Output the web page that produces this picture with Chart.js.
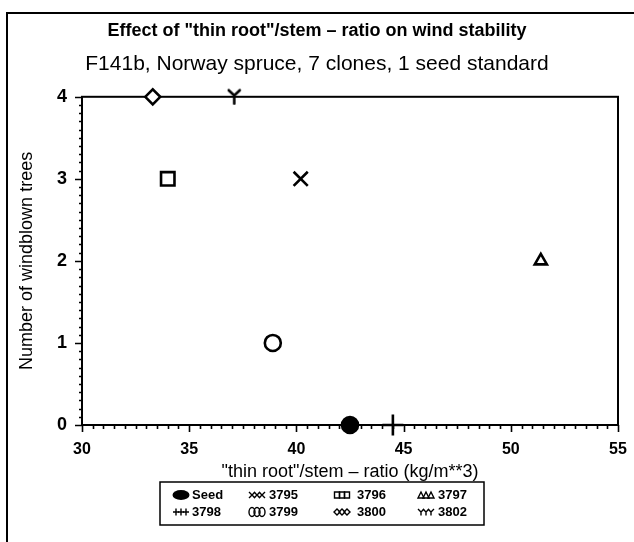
<!DOCTYPE html>
<html><head><meta charset="utf-8">
<script src="https://cdn.jsdelivr.net/npm/chart.js@4/dist/chart.umd.min.js"></script>
<style>html,body{margin:0;padding:0;background:#fff;} #wrap{width:634px;height:542px;position:relative}</style>
</head><body><div id="wrap"><canvas id="c" width="634" height="542"></canvas></div>
<script>
// ---- data ----
const clones = ['Seed', '3795', '3796', '3797', '3798', '3799', '3800', '3802'];
const ratio = [42.5, 40.2, 34.0, 51.4, 44.5, 38.9, 33.3, 37.1];
const windblown = [0, 3, 3, 2, 0, 1, 4, 4];
const xTickValues = [30, 35, 40, 45, 50, 55];
const yTickValues = [0, 1, 2, 3, 4];
const titleText = 'Effect of "thin root"/stem \u2013 ratio on wind stability';
const subtitleText = 'F141b, Norway spruce, 7 clones, 1 seed standard';
const xTitle = '"thin root"/stem \u2013 ratio (kg/m**3)';
const yTitle = 'Number of windblown trees';

const FONT = '"Liberation Sans", Arial, Helvetica, sans-serif';

// Y-shaped marker image
function makeY(w, h, lw) {
  const c = document.createElement('canvas');
  c.width = w; c.height = h;
  const g = c.getContext('2d');
  g.strokeStyle = '#000'; g.lineWidth = lw; g.lineCap = 'round';
  g.beginPath();
  g.moveTo(2, 2); g.lineTo(w / 2, h * 0.42);
  g.lineTo(w - 2, 2);
  g.moveTo(w / 2, h * 0.42); g.lineTo(w / 2, h - 1.5);
  g.stroke();
  return c;
}
const yMarker = makeY(15, 17, 2.6);

const styles = {
  'Seed': {pointStyle: 'circle', radius: 8, bg: '#000'},
  '3795': {pointStyle: 'crossRot', radius: 10, bg: '#fff'},
  '3796': {pointStyle: 'rect', radius: 9.5, bg: '#fff'},
  '3797': {pointStyle: 'triangle', radius: 7, bg: '#fff'},
  '3798': {pointStyle: 'cross', radius: 10.5, bg: '#fff'},
  '3799': {pointStyle: 'circle', radius: 8, bg: 'rgba(0,0,0,0)'},
  '3800': {pointStyle: 'rectRot', radius: 7.5, bg: '#fff'},
  '3802': {pointStyle: yMarker, radius: 8, bg: '#fff'}
};

const datasets = clones.map((name, i) => ({
  label: name,
  data: [{x: ratio[i], y: windblown[i]}],
  pointStyle: styles[name].pointStyle,
  pointRadius: styles[name].radius,
  pointHoverRadius: styles[name].radius,
  backgroundColor: styles[name].bg,
  borderColor: '#000',
  borderWidth: 2.6,
  clip: false
}));

// custom small legend symbol drawing
function legendSym(ctx, name, x, y) {
  ctx.save();
  ctx.strokeStyle = '#000'; ctx.fillStyle = '#000'; ctx.lineWidth = 1.4;
  const offs = [-5, 0, 5];
  if (name === 'Seed') {
    ctx.beginPath();
    ctx.ellipse(x, y, 8.5, 5, 0, 0, Math.PI * 2);
    ctx.fill();
  } else {
    offs.forEach(o => {
      const cx = x + o, r = 3;
      ctx.beginPath();
      switch (name) {
        case '3795': ctx.moveTo(cx - r, y - r); ctx.lineTo(cx + r, y + r); ctx.moveTo(cx + r, y - r); ctx.lineTo(cx - r, y + r); ctx.stroke(); break;
        case '3796': ctx.rect(cx - 2.5, y - r, 5, 2 * r); ctx.stroke(); break;
        case '3797': ctx.moveTo(cx, y - r); ctx.lineTo(cx + r, y + r); ctx.lineTo(cx - r, y + r); ctx.closePath(); ctx.stroke(); break;
        case '3798': ctx.moveTo(cx - r, y); ctx.lineTo(cx + r, y); ctx.moveTo(cx, y - r - 0.5); ctx.lineTo(cx, y + r + 0.5); ctx.stroke(); break;
        case '3799': ctx.ellipse(cx, y, 3, 4.5, 0, 0, Math.PI * 2); ctx.stroke(); break;
        case '3800': ctx.moveTo(cx - r, y); ctx.lineTo(cx, y - r); ctx.lineTo(cx + r, y); ctx.lineTo(cx, y + r); ctx.closePath(); ctx.stroke(); break;
        case '3802': ctx.moveTo(cx - r, y - r); ctx.lineTo(cx, y); ctx.lineTo(cx + r, y - r); ctx.moveTo(cx, y); ctx.lineTo(cx, y + r + 0.5); ctx.stroke(); break;
      }
    });
  }
  ctx.restore();
}

const framePlugin = {
  id: 'frame',
  beforeDatasetsDraw(chart) {
    const ctx = chart.ctx;
    const a = chart.chartArea;
    const xs = chart.scales.x, ys = chart.scales.y;
    ctx.save();
    ctx.strokeStyle = '#000';
    // outer frame (top + left)
    ctx.lineWidth = 2;
    ctx.beginPath();
    ctx.moveTo(7, 542); ctx.lineTo(7, 13); ctx.lineTo(634, 13);
    ctx.stroke();
    // plot box
    ctx.lineWidth = 2;
    ctx.strokeRect(a.left, a.top, a.right - a.left, a.bottom - a.top);
    // x ticks (major every 5, minor every 0.5)
    ctx.lineWidth = 1.6;
    ctx.beginPath();
    for (let k = 0; k <= 50; k++) {
      const v = xs.min + k * 0.5;
      const px = Math.round(xs.getPixelForValue(v)) + 0.5;
      const len = (k % 10 === 0) ? 7 : 4;
      ctx.moveTo(px, a.bottom); ctx.lineTo(px, a.bottom + len);
    }
    // y ticks (major every 1, minor every 0.1)
    for (let k = 0; k <= 40; k++) {
      const v = ys.min + k * 0.1;
      const py = Math.round(ys.getPixelForValue(v)) + 0.5;
      const len = (k % 10 === 0) ? 7 : 3;
      ctx.moveTo(a.left, py); ctx.lineTo(a.left - len, py);
    }
    ctx.stroke();
    // legend
    const L = {left: 160, right: 484, top: 482, bottom: 525};
    ctx.lineWidth = 1.5;
    ctx.strokeRect(L.left, L.top, L.right - L.left, L.bottom - L.top);
    const colSym = [181, 257, 342, 426];
    const colTxt = [192, 269, 357, 438];
    const rowY = [495, 512];
    ctx.fillStyle = '#000';
    ctx.font = 'bold 13px ' + FONT;
    ctx.textBaseline = 'middle';
    ctx.textAlign = 'left';
    chart.data.datasets.forEach((ds, i) => {
      const r = Math.floor(i / 4), c = i % 4;
      legendSym(ctx, ds.label, colSym[c], rowY[r]);
      ctx.fillText(ds.label, colTxt[c], rowY[r] + 0.5);
    });
    ctx.restore();
  }
};

new Chart(document.getElementById('c'), {
  type: 'scatter',
  data: {datasets},
  options: {
    responsive: false,
    animation: false,
    devicePixelRatio: 1,
    layout: {padding: {top: 0, right: 16, left: 16, bottom: 0}},
    plugins: {
      legend: {display: false},
      tooltip: {enabled: false},
      title: {
        display: true, text: titleText, color: '#000',
        font: {family: FONT, size: 18, weight: 'bold', lineHeight: 1.2},
        padding: {top: 20, bottom: 10}
      },
      subtitle: {
        display: true, text: subtitleText, color: '#000',
        font: {family: FONT, size: 21, weight: 'normal', lineHeight: 1.2},
        padding: {top: 0, bottom: 20}
      }
    },
    scales: {
      x: {
        type: 'linear', min: 30, max: 55,
        afterFit(s) { s.height = 542 - 425; },
        afterBuildTicks(s) { s.ticks = xTickValues.map(v => ({value: v})); },
        grid: {display: false, drawTicks: true, tickLength: 15},
        border: {display: false},
        ticks: {color: '#000', font: {family: FONT, size: 16, weight: 'bold'}, padding: 0},
        title: {display: true, text: xTitle, color: '#000',
          font: {family: FONT, size: 18, weight: 'normal', lineHeight: 1.2}, padding: {top: 0, bottom: 59}}
      },
      y: {
        type: 'linear', min: 0, max: 4,
        afterFit(s) { s.width = 66; },
        afterBuildTicks(s) { s.ticks = yTickValues.map(v => ({value: v})); },
        grid: {display: false, drawTicks: true, tickLength: 15},
        border: {display: false},
        ticks: {color: '#000', font: {family: FONT, size: 18, weight: 'bold'}, padding: 0},
        title: {display: true, text: yTitle, color: '#000',
          font: {family: FONT, size: 18, weight: 'normal', lineHeight: 1.2}, padding: {top: 0, bottom: 0}}
      }
    }
  },
  plugins: [framePlugin]
});
</script>
</body></html>
